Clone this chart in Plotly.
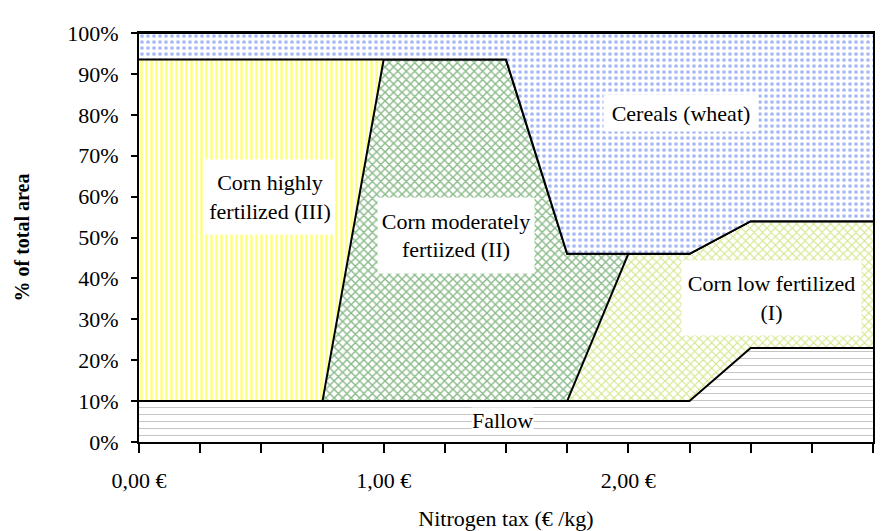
import plotly.graph_objects as go

# nitrogen tax (euro/kg) and land share of each crop (% of total area)
tax = [0.0, 0.75, 1.0, 1.5, 1.75, 2.0, 2.25, 2.5, 3.0]
fallow = [10, 10, 10, 10, 10, 10, 10, 23, 23]
corn_low = [0, 0, 0, 0, 0, 36, 36, 31, 31]
corn_moderate = [0, 0, 83.5, 83.5, 36, 0, 0, 0, 0]
corn_high = [83.5, 83.5, 0, 0, 0, 0, 0, 0, 0]
cereals = [6.5, 6.5, 6.5, 6.5, 54, 54, 54, 46, 46]

x_ticks = [0, 0.25, 0.5, 0.75, 1, 1.25, 1.5, 1.75, 2, 2.25, 2.5, 2.75, 3]
x_labels = ["0,00 €", "", "", "", "1,00 €", "", "", "", "2,00 €", "", "", "", "3,00 €"]
y_ticks = [0, 10, 20, 30, 40, 50, 60, 70, 80, 90, 100]
y_labels = [f"{v}%" for v in y_ticks]

FONT = "Liberation Serif, Times New Roman, serif"

layers = [
    ("Fallow", fallow, "-", "#8c8c8c", 7, 0.15),
    ("Corn low fertilized (I)", corn_low, "x", "#a6cc14", 6, 0.35),
    ("Corn moderately fertiized (II)", corn_moderate, "x", "#137513", 6, 0.42),
    ("Corn highly fertilized (III)", corn_high, "|", "#ffff00", 5, 0.5),
    ("Cereals (wheat)", cereals, ".", "#4f72ee", 6, 0.3),
]

fig = go.Figure()
for name, vals, shape, col, size, sol in layers:
    fig.add_trace(go.Scatter(
        x=tax, y=vals, name=name, mode="lines", stackgroup="one",
        line=dict(color="black", width=2),
        fillcolor="white",
        fillpattern=dict(shape=shape, fgcolor=col, bgcolor="white",
                         size=size, solidity=sol),
    ))

# label boxes: (text, x, y, width, height)
labels = [
    ("Corn highly<br>fertilized (III)", 0.535, 60.0, 128, 74),
    ("Corn moderately<br>fertiized (II)", 1.296, 50.6, 156, 75),
    ("Cereals (wheat)", 2.215, 80.4, 154, 36),
    ("Corn low fertilized<br>(I)", 2.585, 35.3, 179, 74),
]
for txt, lx, ly, w, h in labels:
    fig.add_annotation(x=lx, y=ly, text=txt, showarrow=False, width=w, height=h,
                       bgcolor="white", borderpad=0,
                       font=dict(family=FONT, size=22, color="black"))
fig.add_annotation(x=1.484, y=5.2, text="Fallow", showarrow=False,
                   bgcolor="white", borderpad=0,
                   font=dict(family=FONT, size=22, color="black"))

# thin frame edge at the right of the picture
fig.add_shape(type="line", xref="paper", yref="paper", x0=1.023, x1=1.023,
              y0=-0.13, y1=1.06, line=dict(color="#d0d0d0", width=1))

fig.update_layout(
    width=884, height=523,
    margin=dict(l=131, r=19, t=25, b=89),
    paper_bgcolor="white", plot_bgcolor="white",
    showlegend=False,
    font=dict(family=FONT, size=22, color="black"),
    xaxis=dict(
        range=[0, 3], tickvals=x_ticks, ticktext=x_labels,
        ticks="outside", ticklen=9, tickwidth=1.5, tickcolor="black",
        ticklabelstandoff=9, automargin=False,
        showline=True, linecolor="black", linewidth=2, mirror=True,
        showgrid=False, zeroline=False,
        title=dict(text="Nitrogen tax (€ /kg)", standoff=20,
                   font=dict(family=FONT, size=22)),
    ),
    yaxis=dict(
        range=[0, 100], tickvals=y_ticks, ticktext=y_labels,
        ticks="outside", ticklen=6, tickwidth=1.5, tickcolor="black",
        ticklabelstandoff=8, automargin=False,
        showline=True, linecolor="black", linewidth=2, mirror=True,
        showgrid=False, zeroline=False,
        title=dict(text="<b>% of total area</b>", standoff=32,
                   font=dict(family=FONT, size=20)),
    ),
)

fig.write_html("out.html")
